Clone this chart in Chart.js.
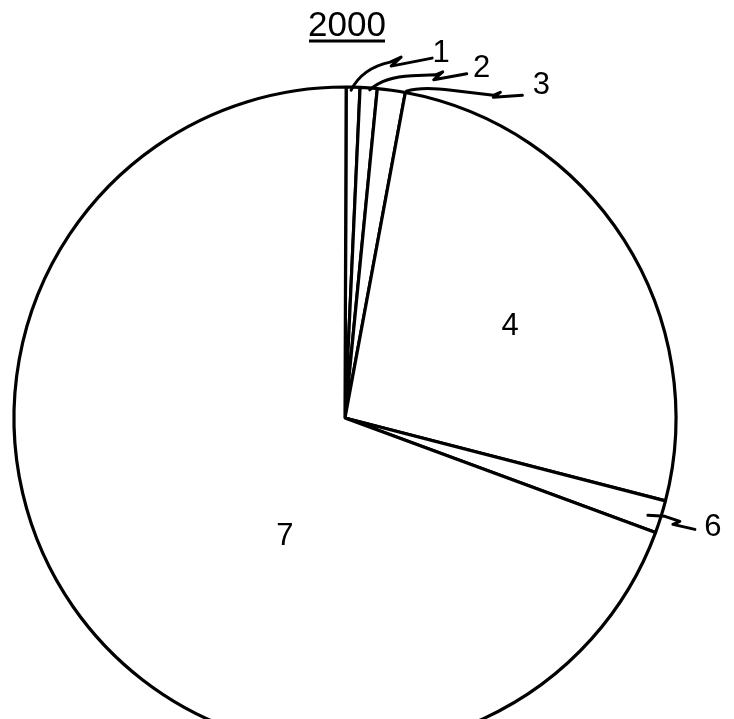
<!DOCTYPE html>
<html lang="en">
<head>
  <meta charset="UTF-8">
  <title>2000</title>
  <script src="https://cdn.jsdelivr.net/npm/chart.js"></script>
  <style>
    html, body {
      margin: 0;
      padding: 0;
      overflow: hidden;
      background: #fff;
    }
    #pie {
      display: block;
    }
  </style>
</head>
<body>
  <canvas id="pie" width="734" height="780"></canvas>

  <script>
    // share of each sector (%)
    const year = '2000';
    const sectors = ['1', '2', '3', '4', '6', '7'];
    const shares = [0.67, 0.83, 1.36, 26.1, 1.6, 69.4];

    const FONT = '"Liberation Sans", Arial, sans-serif';

    // leader lines for the small sectors, as offsets from the middle of the arc edge
    const leaders = {
      '1': { pts: [[-2, 3], ['q', 9, -19, 37, -25], [48, -30], [38, -21], [79, -29]], label: [88, -34] },
      '2': { pts: [[1, 2], ['q', 16, -11, 43, -12], [67, -13], [74, -16], [65, -8], [98, -14]], label: [113, -19] },
      '3': { pts: [[15, 1], ['q', 30, -4, 60, 0], [102, 5], [109, 2], [102, 7], [131, 5]], label: [150, -5] },
      '6': { pts: [[-13, -1.5], [4, -0.5], [7, 0.5], [19, 4.5], [12, 7.5], [34, 12.5]], label: [52, 10.5] }
    };
    // labels drawn inside the pie: angle from top (deg) and fraction of radius
    const inside = {
      '4': { angle: 61, dist: 0.57 },
      '7': { angle: 207, dist: 0.40 }
    };

    const annotate = {
      id: 'annotate',
      afterDraw(chart) {
        const c = chart.ctx;
        const arcs = chart.getDatasetMeta(0).data;
        c.save();
        c.fillStyle = '#000';
        c.strokeStyle = '#000';
        c.lineCap = 'round';
        c.lineJoin = 'round';

        // title, underlined
        c.font = '35px ' + FONT;
        c.textAlign = 'center';
        c.textBaseline = 'middle';
        c.fillText(year, 347, 26);
        c.fillRect(309, 39.5, 76, 3);

        c.font = '31px ' + FONT;
        arcs.forEach((arc, i) => {
          const name = sectors[i];
          const mid = (arc.startAngle + arc.endAngle) / 2;
          if (leaders[name]) {
            const ax = arc.x + Math.cos(mid) * arc.outerRadius;
            const ay = arc.y + Math.sin(mid) * arc.outerRadius;
            const L = leaders[name];
            c.lineWidth = 3;
            c.beginPath();
            L.pts.forEach((p, k) => {
              if (p[0] === 'q') {
                c.quadraticCurveTo(ax + p[1], ay + p[2], ax + p[3], ay + p[4]);
              } else if (k === 0) {
                c.moveTo(ax + p[0], ay + p[1]);
              } else {
                c.lineTo(ax + p[0], ay + p[1]);
              }
            });
            c.stroke();
            c.fillText(name, ax + L.label[0], ay + L.label[1]);
          } else if (inside[name]) {
            const a = inside[name].angle * Math.PI / 180;
            const d = inside[name].dist * arc.outerRadius;
            c.fillText(name, arc.x + Math.sin(a) * d, arc.y - Math.cos(a) * d);
          }
        });
        c.restore();
      }
    };

    new Chart(document.getElementById('pie'), {
      type: 'pie',
      data: {
        labels: sectors,
        datasets: [{
          data: shares,
          backgroundColor: '#ffffff',
          borderColor: '#000000',
          borderWidth: 3.2,
          radius: 331
        }]
      },
      options: {
        responsive: false,
        devicePixelRatio: 1,
        animation: false,
        rotation: 0.2,
        layout: {
          padding: { left: 14, right: 58, top: 87, bottom: 31 }
        },
        plugins: {
          legend: { display: false },
          tooltip: { enabled: false }
        },
        events: []
      },
      plugins: [annotate]
    });
  </script>
</body>
</html>
